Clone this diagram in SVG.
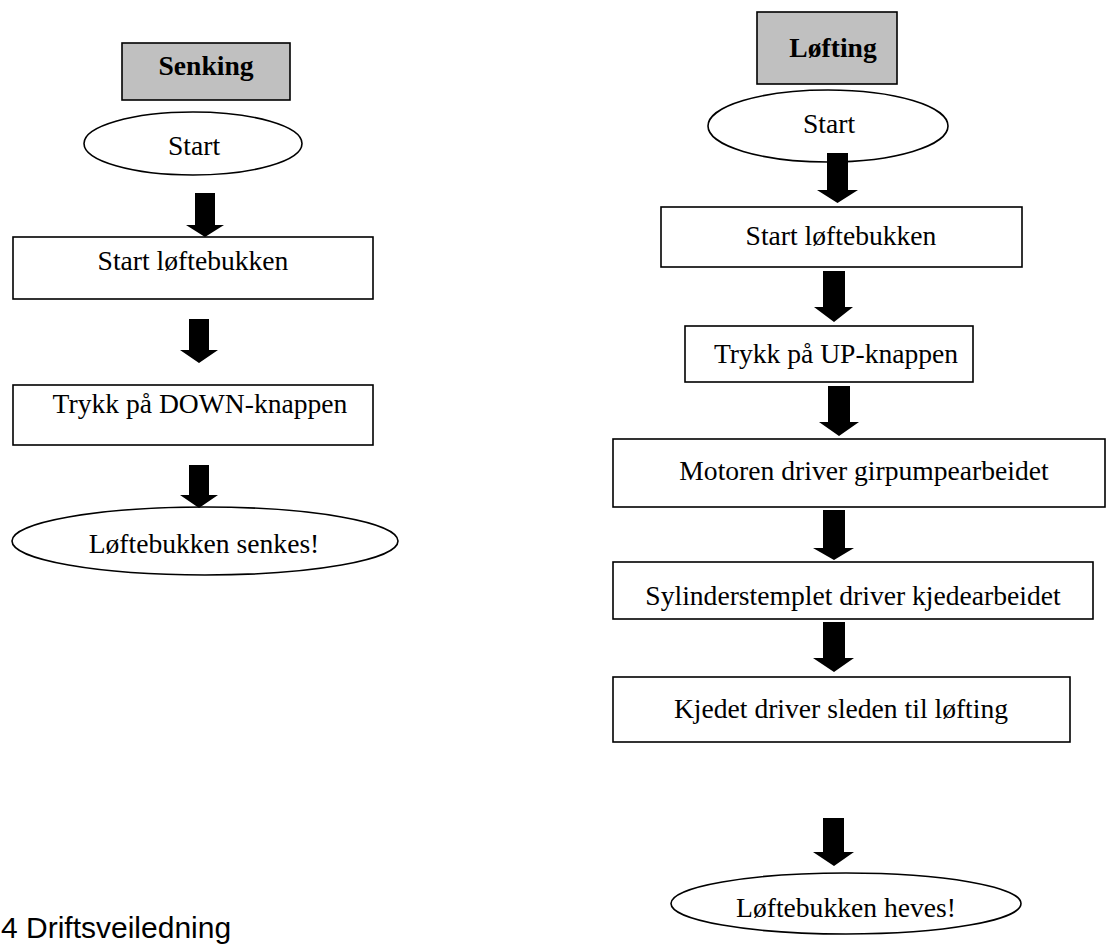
<svg xmlns="http://www.w3.org/2000/svg" width="1106" height="946" viewBox="0 0 1106 946">
<style>
.box{fill:#ffffff;stroke:#000;stroke-width:1.6}
.hdr{fill:#c0c0c0;stroke:#000;stroke-width:1.6}
.ell{fill:#ffffff;stroke:#000;stroke-width:1.6}
.t{font-family:"Liberation Serif","Times New Roman",serif;font-size:27.6px;fill:#000;text-anchor:middle}
.b{font-weight:bold}
.arr{fill:#000;stroke:none}
.sec{font-family:"Liberation Sans",Arial,sans-serif;font-size:30px;fill:#000}
</style>
<rect width="1106" height="946" fill="#ffffff"/>
<g id="senking-header"><rect class="hdr" x="122" y="43" width="168" height="57"/><text class="t b" x="206" y="75">Senking</text></g>
<g id="l-start"><ellipse class="ell" cx="193" cy="143.5" rx="109" ry="31.5"/><text class="t" x="194" y="155">Start</text></g>
<g id="l-box1"><rect class="box" x="13" y="237" width="360" height="62"/><text class="t" x="193" y="270">Start løftebukken</text></g>
<g id="l-box2"><rect class="box" x="13" y="385" width="360" height="60"/><text class="t" x="200" y="413">Trykk på DOWN-knappen</text></g>
<g id="l-end"><ellipse class="ell" cx="205" cy="541" rx="193" ry="34"/><text class="t" x="204" y="553">Løftebukken senkes!</text></g>
<g id="lofting-header"><rect class="hdr" x="757" y="12" width="140" height="72"/><text class="t b" x="833" y="57">Løfting</text></g>
<g id="r-start"><ellipse class="ell" cx="828" cy="126" rx="120" ry="36"/><text class="t" x="829" y="133">Start</text></g>
<g id="r-box1"><rect class="box" x="661" y="207" width="361" height="60"/><text class="t" x="841" y="245">Start løftebukken</text></g>
<g id="r-box2"><rect class="box" x="685" y="326" width="288" height="56"/><text class="t" x="836" y="363">Trykk på UP-knappen</text></g>
<g id="r-box3"><rect class="box" x="613" y="439" width="492" height="68"/><text class="t" x="864" y="480">Motoren driver girpumpearbeidet</text></g>
<g id="r-box4"><rect class="box" x="613" y="562" width="480" height="57"/><text class="t" x="853" y="605">Sylinderstemplet driver kjedearbeidet</text></g>
<g id="r-box5"><rect class="box" x="613" y="677" width="457" height="65"/><text class="t" x="841" y="718">Kjedet driver sleden til løfting</text></g>
<g id="r-end"><ellipse class="ell" cx="846" cy="903.5" rx="175" ry="30.5"/><text class="t" x="846" y="917">Løftebukken heves!</text></g>
<g id="connectors">
<polygon class="arr" points="195,193 215,193 215,225 224,225 205,237 186,225 195,225"/>
<polygon class="arr" points="189,319 209,319 209,350 218,350 199,363 180,350 189,350"/>
<polygon class="arr" points="189,465 209,465 209,495 218,495 199,508 180,495 189,495"/>
<polygon class="arr" points="827,153 848,153 848,190 858,190 837.5,203 817,190 827,190"/>
<polygon class="arr" points="823,271 845,271 845,307 853,307 834,322 814,307 823,307"/>
<polygon class="arr" points="828,386 850,386 850,422 859,422 839,436 819,422 828,422"/>
<polygon class="arr" points="823,510 845,510 845,548 854,548 834,560 813,548 823,548"/>
<polygon class="arr" points="823,622 845,622 845,658 854,658 834,672 813,658 823,658"/>
<polygon class="arr" points="823,818 844,818 844,852 854,852 834,866 813,852 823,852"/>
</g>
<text class="sec" x="1" y="938">4 Driftsveiledning</text>
</svg>
